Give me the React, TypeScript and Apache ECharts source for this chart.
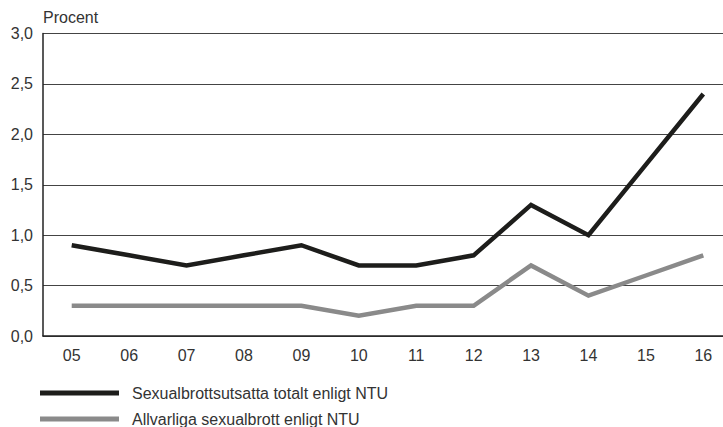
import React, { useEffect, useRef } from "react";
import * as echarts from "echarts";

const categories = ["05", "06", "07", "08", "09", "10", "11", "12", "13", "14", "15", "16"];
const totalSeries = [0.9, 0.8, 0.7, 0.8, 0.9, 0.7, 0.7, 0.8, 1.3, 1.0, 1.7, 2.4];
const seriousSeries = [0.3, 0.3, 0.3, 0.3, 0.3, 0.2, 0.3, 0.3, 0.7, 0.4, 0.6, 0.8];
const seriesNames = ["Sexualbrottsutsatta totalt enligt NTU", "Allvarliga sexualbrott enligt NTU"];
const yAxisName = "Procent";

const FONT = "'Liberation Sans', Arial, Helvetica, sans-serif";

const legendBase = {
  orient: "vertical",
  left: 40,
  icon: "rect",
  itemWidth: 79,
  itemHeight: 5,
  selectedMode: false,
  padding: 0,
  textStyle: { fontSize: 16, color: "#333", fontFamily: FONT, lineHeight: 20, padding: [0, 0, 0, 8] },
};

export default function App() {
  const ref = useRef<HTMLDivElement>(null);
  useEffect(() => {
    if (!ref.current) return;
    const chart = echarts.init(ref.current, null, { renderer: "svg" });
    chart.setOption({
      animation: false,
      backgroundColor: "#ffffff",
      textStyle: { fontFamily: FONT },
      grid: { left: 43, width: 689, top: 33.5, bottom: 91, containLabel: false, outerBoundsMode: "none" },
      legend: [
        { ...legendBase, top: 383, data: [seriesNames[0]] },
        { ...legendBase, top: 409, data: [seriesNames[1]] },
      ],
      xAxis: {
        type: "category",
        data: categories,
        boundaryGap: true,
        axisLine: { lineStyle: { color: "#222", width: 1.5 } },
        axisTick: { alignWithLabel: true, inside: true, length: 6, lineStyle: { color: "#333", width: 1 } },
        axisLabel: { fontSize: 16, color: "#333", margin: 11, fontFamily: FONT },
        splitLine: { show: false },
      },
      yAxis: {
        type: "value",
        min: 0,
        max: 3,
        interval: 0.5,
        name: yAxisName,
        nameLocation: "end",
        nameGap: 8,
        nameTextStyle: { fontSize: 16, color: "#333", align: "left", fontFamily: FONT },
        axisLine: { show: true, lineStyle: { color: "#222", width: 1.5 } },
        axisTick: { show: false },
        axisLabel: {
          fontSize: 16,
          color: "#333",
          margin: 10,
          fontFamily: FONT,
          formatter: (v: number) => v.toFixed(1).replace(".", ","),
        },
        splitLine: { show: true, lineStyle: { color: "#444", width: 1 } },
      },
      series: [
        {
          name: seriesNames[0],
          type: "line",
          data: totalSeries,
          symbol: "none",
          color: "#1d1d1b",
          lineStyle: { color: "#1d1d1b", width: 4.5, join: "miter" },
          z: 3,
        },
        {
          name: seriesNames[1],
          type: "line",
          data: seriousSeries,
          symbol: "none",
          color: "#8a8a8a",
          lineStyle: { color: "#8a8a8a", width: 4.5, join: "miter" },
          z: 2,
        },
      ],
    });
    return () => chart.dispose();
  }, []);
  return <div ref={ref} style={{ width: 723, height: 427, position: "absolute", left: 0, top: 0 }} />;
}
